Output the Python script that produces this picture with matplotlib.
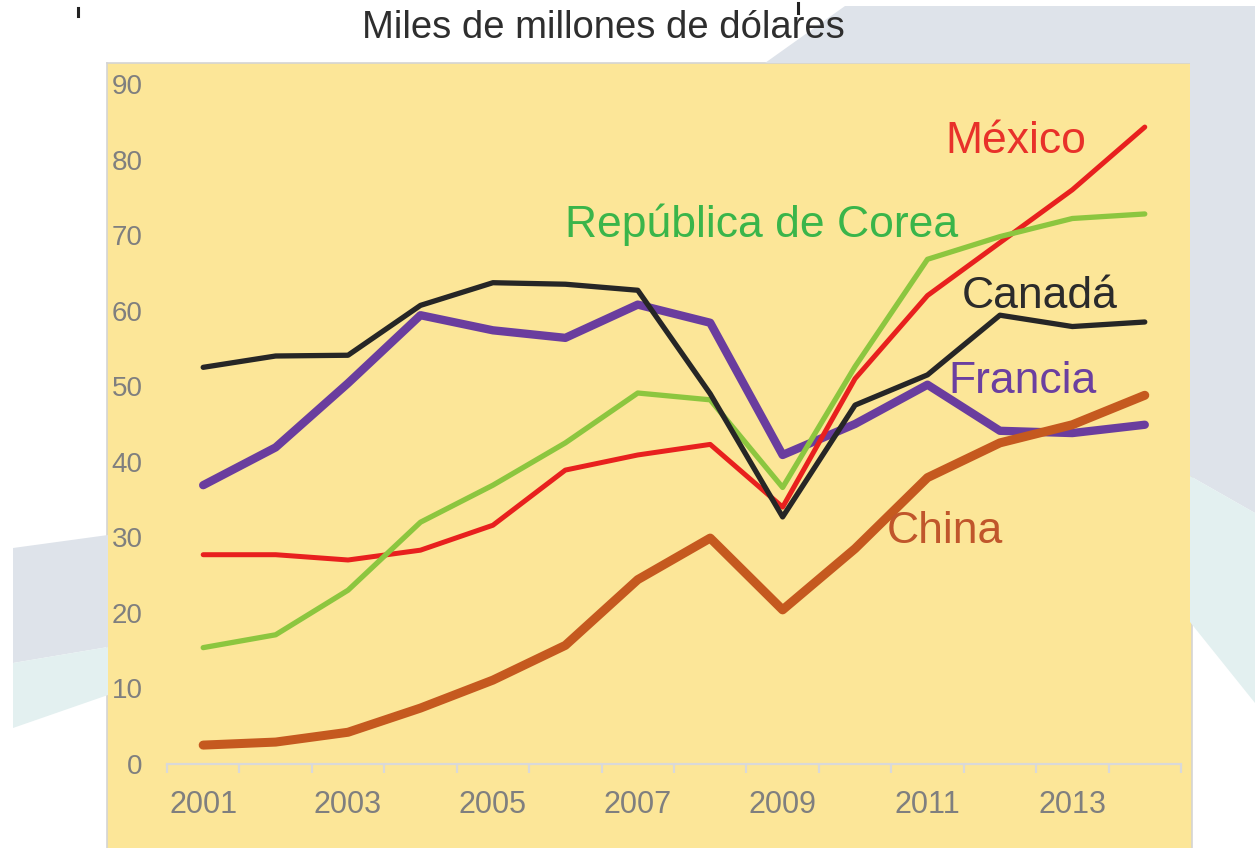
import matplotlib
matplotlib.use("Agg")
import matplotlib.pyplot as plt
from matplotlib.patches import Polygon

plt.rcParams["font.family"] = ["Liberation Sans", "DejaVu Sans"]

# data (miles de millones de dólares)
years = list(range(2001, 2015))
mexico = [27.7, 27.7, 27.0, 28.3, 31.6, 38.9, 40.9, 42.3, 34.0, 51.0, 62.0, 69.0, 76.0, 84.3]
corea = [15.4, 17.1, 23.0, 32.0, 36.9, 42.5, 49.1, 48.2, 36.6, 52.6, 66.8, 69.8, 72.2, 72.8]
canada = [52.5, 54.0, 54.1, 60.7, 63.7, 63.5, 62.7, 49.0, 32.7, 47.5, 51.5, 59.4, 57.9, 58.5]
francia = [36.9, 41.9, 50.4, 59.4, 57.4, 56.4, 60.8, 58.4, 40.9, 45.0, 50.2, 44.1, 43.8, 44.9]
china = [2.5, 2.9, 4.2, 7.4, 11.1, 15.7, 24.4, 29.9, 20.4, 28.5, 37.9, 42.5, 44.9, 48.8]

W, H = 1255, 848


def fx(px):
    return px / W


def fy(py):
    return 1 - py / H


fig = plt.figure(figsize=(W / 100, H / 100), dpi=100)
fig.patch.set_facecolor("white")

# background swooshes of the slide
GRAY = "#DEE3EA"
TEAL = "#E3F0F0"
shapes = [
    ([(845, 6), (1255, 6), (1255, 513), (1190, 476), (1190, 63), (765, 63)], GRAY),
    ([(1190, 476), (1255, 513), (1255, 703), (1190, 622)], TEAL),
    ([(13, 548), (108, 535), (108, 647), (13, 663)], GRAY),
    ([(13, 663), (108, 647), (108, 695), (13, 728)], TEAL),
]
for pts, col in shapes:
    fig.patches.append(Polygon([(fx(x), fy(y)) for x, y in pts], closed=True,
                               transform=fig.transFigure, facecolor=col,
                               edgecolor="none", zorder=0))

# stray marks in the source image
fig.add_artist(plt.Line2D([fx(78), fx(78)], [fy(8), fy(16)], color="#222222", lw=2.2))
fig.add_artist(plt.Line2D([fx(798), fx(798)], [fy(3), fy(13)], color="#222222", lw=2.2))

ax = fig.add_axes([fx(107), 0, fx(1192) - fx(107), fy(63)])
ax.set_facecolor("#FCE698")
ax.set_xlim(1999.672, 2014.652)
ax.set_ylim(-11.12, 92.78)

for side in ("top", "left", "right"):
    ax.spines[side].set_color("#D4D4D4")
    ax.spines[side].set_linewidth(1.2)
ax.spines["bottom"].set_position(("data", 0))
ax.spines["bottom"].set_bounds(2000.5, 2014.5)
ax.spines["bottom"].set_color("#D9D9D9")
ax.spines["bottom"].set_linewidth(1.6)

ax.set_xticks([y - 0.5 for y in years] + [2014.5])
ax.set_xticklabels([])
ax.tick_params(axis="x", which="major", direction="out", length=6.5, width=1.6,
               color="#D9D9D9")
ax.set_xticks(years[::2], minor=True)
ax.set_xticklabels([str(y) for y in years[::2]], minor=True)
ax.tick_params(axis="x", which="minor", length=0, pad=19, labelsize=22,
               labelcolor="#7F7F7F")

ax.set_yticks(range(0, 91, 10))
ax.tick_params(axis="y", length=0, pad=-25.5, labelsize=20, labelcolor="#7F7F7F")

series = [
    (francia, "#6A3D9E", 6.0),
    (china, "#C5591F", 6.5),
    (mexico, "#E8201E", 3.6),
    (corea, "#8CC63F", 3.8),
    (canada, "#262626", 3.8),
]
for vals, col, lw in series:
    ax.plot(years, vals, color=col, lw=lw, solid_joinstyle="round",
            solid_capstyle="round", zorder=3)

labels = [
    ("México", 945, 153, "#E8312A"),
    ("República de Corea", 565, 237, "#3AB54A"),
    ("Canadá", 962, 308, "#2B2B2B"),
    ("Francia", 948, 393, "#6B3FA0"),
    ("China", 887, 543, "#C0562B"),
]
for txt, x, y, col in labels:
    fig.text(fx(x), fy(y), txt, color=col, fontsize=32, ha="left", va="baseline",
             zorder=5)

fig.text(fx(603), fy(38), "Miles de millones de dólares", color="#2E2E2E",
         fontsize=27.5, ha="center", va="baseline")

fig.savefig("out.png", dpi=100)
